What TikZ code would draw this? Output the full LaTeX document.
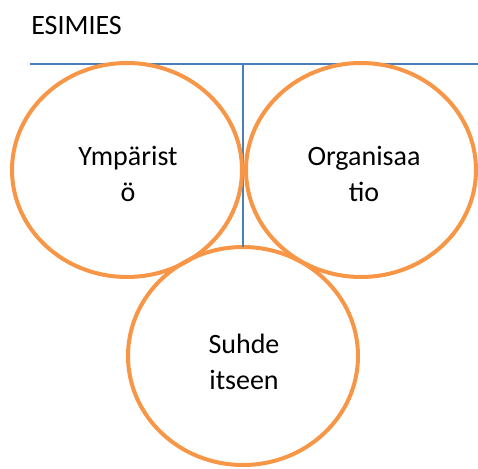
\documentclass[tikz,border=0pt]{standalone}
\usepackage{fontspec}
\setmainfont{Carlito}
\usetikzlibrary{shapes.geometric}
\definecolor{ringorange}{HTML}{F79646}
\definecolor{lineblue}{HTML}{4A7EBB}
\tikzset{
  ring/.style={ellipse, draw=ringorange, line width=3pt, inner sep=0pt, outer sep=0pt},
  ringtext/.style={align=center, font=\fontsize{21}{27}\selectfont, inner sep=0pt},
  bar/.style={draw=lineblue, line width=1pt}
}
\begin{document}
\begin{tikzpicture}[x=0.75pt,y=-0.75pt]
\useasboundingbox (0,0) rectangle (478,468);
% lines
\coordinate (hl) at (30,64);
\coordinate (hr) at (478,64);
\coordinate (vt) at (243,64);
\node[ring, minimum width=172.5pt, minimum height=163.5pt] (e3) at (243,356) {};
\draw[bar] (hl) -- (hr);
\draw[bar] (vt) -- (e3.north);
% ellipses
\node[ring, minimum width=172.5pt, minimum height=160.5pt] (e1) at (127,170) {};
\node[ring, minimum width=172.5pt, minimum height=160.5pt] (e2) at (361,170) {};
% texts
\node[anchor=base west, font=\fontsize{21}{27}\selectfont, inner sep=0pt] (title) at (31,34) {ESIMIES};
\node[ringtext] (t1) at (128,174) {Ympärist\\ö};
\node[ringtext] (t2) at (364,174) {Organisaa\\tio};
\node[ringtext] (t3) at (244,362) {Suhde\\itseen};
\end{tikzpicture}
\end{document}
